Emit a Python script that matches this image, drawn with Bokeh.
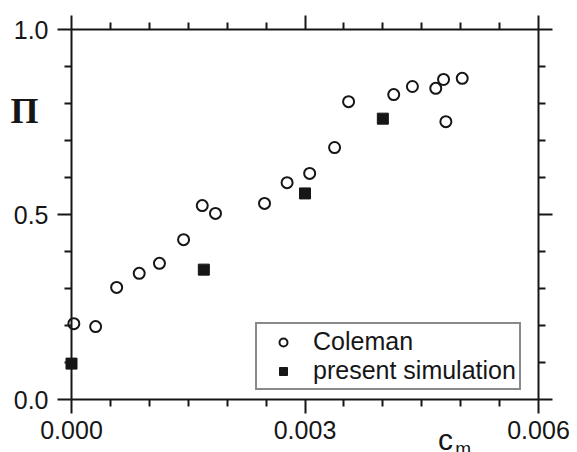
from bokeh.plotting import figure
from bokeh.models import (LinearAxis, FixedTicker, Label, Legend, LegendItem,
                          Range1d, NumeralTickFormatter)
from bokeh.embed import file_html
from bokeh.resources import INLINE

# ---- data ----
coleman_cm = [0.00003, 0.00031, 0.00058, 0.00087, 0.00113, 0.00144, 0.00168,
              0.00185, 0.00248, 0.00277, 0.00306, 0.00338, 0.00356, 0.00414,
              0.00438, 0.00468, 0.00478, 0.00502, 0.00481]
coleman_pi = [0.205, 0.197, 0.303, 0.341, 0.368, 0.432, 0.524,
              0.503, 0.530, 0.586, 0.611, 0.681, 0.805, 0.824,
              0.846, 0.841, 0.865, 0.868, 0.751]
sim_cm = [0.0, 0.0017, 0.0030, 0.0040]
sim_pi = [0.097, 0.351, 0.557, 0.759]

x_ticks = [0.0, 0.003, 0.006]
x_labels = ["0.000", "0.003", "0.006"]
x_minor = [0.0005, 0.001, 0.0015, 0.002, 0.0025, 0.0035, 0.004, 0.0045,
           0.005, 0.0055]
y_ticks = [0.0, 0.5, 1.0]
y_labels = ["0.0", "0.5", "1.0"]
y_minor = [0.1, 0.2, 0.3, 0.4, 0.6, 0.7, 0.8, 0.9]

INK = "#161616"
FONT = "Liberation Sans"

# page geometry: the axes box spans 467 x 370 px, starting 71 px from the left
# and 29 px from the top of a 577 x 452 canvas
W, H = 577, 452
L, T, FW, FH = 71, 29, 467, 370
xs = (x_ticks[-1] - x_ticks[0]) / FW
ys = (y_ticks[-1] - y_ticks[0]) / FH
x_rng = Range1d(x_ticks[0] - L * xs, x_ticks[0] + (W - L) * xs)
y_rng = Range1d(y_ticks[0] - (H - T - FH) * ys, y_ticks[0] + (T + FH) * ys)

p = figure(width=W, height=H, x_range=x_rng, y_range=y_rng,
           output_backend="svg", toolbar_location=None,
           x_axis_location=None, y_axis_location=None,
           min_border=0, min_border_left=0, min_border_right=0,
           min_border_top=0, min_border_bottom=0)
p.grid.visible = False
p.outline_line_color = None
p.background_fill_color = "white"
p.border_fill_color = "white"


def make_axis(ticks, labels, minor, fmt, show, standoff, loc, bounds):
    ax = LinearAxis(ticker=FixedTicker(ticks=ticks, minor_ticks=minor),
                    formatter=NumeralTickFormatter(format=fmt),
                    fixed_location=loc, bounds=bounds)
    ax.major_label_overrides = {t: (l if show else "") for t, l in zip(ticks, labels)}
    ax.axis_line_color = INK
    ax.axis_line_width = 2
    ax.major_tick_line_color = INK
    ax.major_tick_line_width = 2
    ax.minor_tick_line_color = INK
    ax.minor_tick_line_width = 2
    ax.major_tick_in = 0
    ax.major_tick_out = 14
    ax.minor_tick_in = 0
    ax.minor_tick_out = 7
    ax.major_label_text_font = FONT
    ax.major_label_text_color = INK
    ax.major_label_text_font_size = "25px" if show else "0px"
    ax.major_label_standoff = standoff
    return ax


xb = (x_ticks[0], x_ticks[-1])
yb = (y_ticks[0], y_ticks[-1])
p.add_layout(make_axis(x_ticks, x_labels, x_minor, "0.000", True, 7, y_ticks[0], xb), "below")
p.add_layout(make_axis(x_ticks, x_labels, x_minor, "0.000", False, 0, y_ticks[-1], xb), "above")
p.add_layout(make_axis(y_ticks, y_labels, y_minor, "0.0", True, 9, x_ticks[0], yb), "left")
p.add_layout(make_axis(y_ticks, y_labels, y_minor, "0.0", False, 0, x_ticks[-1], yb), "right")

r1 = p.scatter(coleman_cm, coleman_pi, marker="circle", size=11,
               fill_color="white", line_color=INK, line_width=2)
r2 = p.scatter(sim_cm, sim_pi, marker="square", size=11,
               fill_color=INK, line_color=INK, line_width=1)

legend = Legend(items=[LegendItem(label="Coleman", renderers=[r1]),
                       LegendItem(label="present simulation", renderers=[r2])],
                location=(255, 62), margin=0, padding=3, spacing=0,
                glyph_width=46, glyph_height=20, label_standoff=7,
                label_text_font=FONT, label_text_font_size="25px",
                label_text_color=INK, border_line_color=INK,
                border_line_width=2, background_fill_color="white",
                background_fill_alpha=1)
p.add_layout(legend)

p.add_layout(Label(x=-0.000604, y=0.781, text="Π",
                   text_font="Liberation Serif", text_font_style="bold",
                   text_font_size="36px", text_align="center",
                   text_baseline="middle", text_color=INK))
p.add_layout(Label(x=0.004805, y=-0.107, text="c", text_font=FONT,
                   text_font_size="30px", text_align="center",
                   text_baseline="middle", text_color=INK))
p.add_layout(Label(x=0.00493, y=-0.1324, text="m", text_font=FONT,
                   text_font_size="19px", text_align="left",
                   text_baseline="middle", text_color=INK))

open("out.html", "w").write(file_html(p, INLINE))
